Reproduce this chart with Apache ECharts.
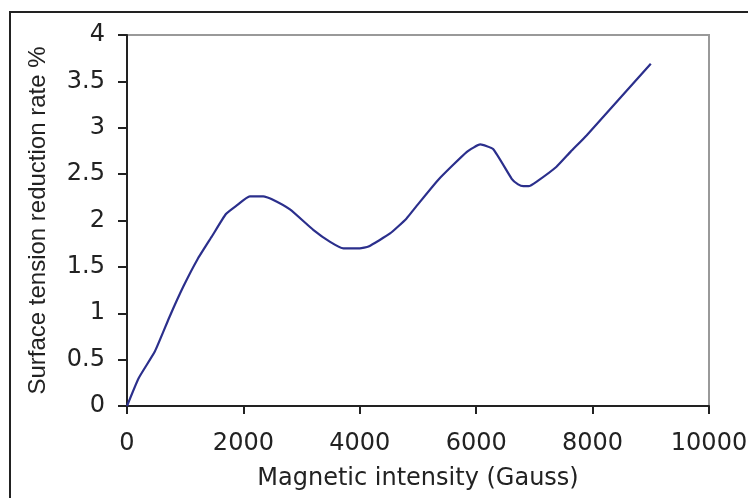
<!DOCTYPE html>
<html>
<head>
<meta charset="utf-8">
<script src="https://cdn.jsdelivr.net/npm/echarts@6/dist/echarts.min.js"></script>
<style>html,body{margin:0;padding:0;background:#fff}#c{width:748px;height:498px}</style>
</head>
<body>
<div id="c"></div>
<script>
var xName = 'Magnetic intensity (Gauss)';
var yName = 'Surface tension reduction rate %';
var gauss = [0,200,480,730,970,1210,1460,1700,1880,2110,2340,2490,2800,3200,3490,3720,4000,4150,4520,4800,4980,5350,5840,6070,6290,6610,6720,6810,6900,7040,7380,7620,7900,9000];
var rate  = [0,0.30,0.59,0.96,1.29,1.58,1.83,2.07,2.16,2.26,2.26,2.23,2.12,1.90,1.77,1.70,1.70,1.72,1.86,2.02,2.16,2.44,2.74,2.82,2.77,2.45,2.39,2.37,2.37,2.42,2.58,2.74,2.92,3.69];

var data = gauss.map(function(g,i){return [g, rate[i]];});
var chart = echarts.init(document.getElementById('c'));
var wide = '"DejaVu Sans", sans-serif';
var font = '"Liberation Sans", Arial, sans-serif';
chart.setOption({
  animation:false,
  graphic:[{type:'rect',shape:{x:10,y:12,width:760,height:510},style:{fill:'none',stroke:'#222',lineWidth:2},z:-1}],
  grid:{left:127,top:35,right:39,bottom:92,show:true,borderColor:'#999',borderWidth:2,backgroundColor:'transparent',containLabel:false,outerBoundsMode:'none'},
  xAxis:{type:'value',min:0,max:10000,interval:2000,
    name:xName,nameLocation:'middle',nameGap:61,
    nameTextStyle:{fontFamily:wide,fontSize:24,color:'#222'},
    axisLine:{show:true,lineStyle:{color:'#222',width:2}},
    axisTick:{show:true,inside:false,length:8,lineStyle:{color:'#222',width:2}},
    axisLabel:{margin:26,fontFamily:wide,fontSize:24,color:'#222',formatter:function(v){return String(v);}},
    splitLine:{show:false}},
  yAxis:{type:'value',min:0,max:4,interval:0.5,
    name:yName,nameLocation:'middle',nameGap:77,
    nameTextStyle:{fontFamily:font,fontSize:24,color:'#222'},
    axisLine:{show:true,lineStyle:{color:'#222',width:2}},
    axisTick:{show:true,inside:false,length:9,lineStyle:{color:'#222',width:2}},
    axisLabel:{margin:22,fontFamily:wide,fontSize:24,color:'#222',formatter:function(v){return String(v);}},
    splitLine:{show:false}},
  series:[{type:'line',data:data,showSymbol:false,smooth:0.15,
    lineStyle:{color:'#2b2f8c',width:2.2}}]
});
</script>
</body>
</html>
